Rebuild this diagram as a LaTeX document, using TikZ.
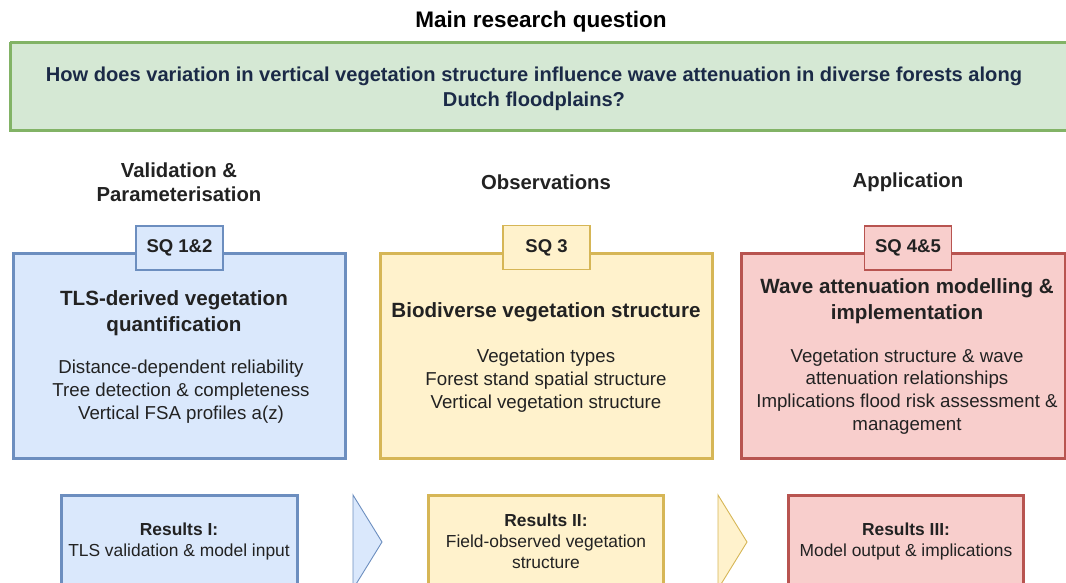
\documentclass[tikz,border=0pt]{standalone}
\usepackage{fontspec}
\setmainfont{Liberation Sans}
\definecolor{bfill}{HTML}{DAE8FC}\definecolor{bdraw}{HTML}{6C8EBF}
\definecolor{yfill}{HTML}{FFF2CC}\definecolor{ydraw}{HTML}{D6B656}
\definecolor{rfill}{HTML}{F8CECC}\definecolor{rdraw}{HTML}{B85450}
\definecolor{gfill}{HTML}{D5E8D4}\definecolor{gdraw}{HTML}{82B366}
\definecolor{navy}{HTML}{1B2A47}
\definecolor{txt}{HTML}{222222}
\tikzset{
  bigbox/.style={line width=3pt},
  tabbox/.style={line width=1.2pt, minimum width=87pt, minimum height=44pt, inner sep=0pt, font=\fontsize{18.5}{22}\selectfont\bfseries, text=txt},
  headtxt/.style={align=center, font=\fontsize{20.3}{24}\selectfont\bfseries, text=txt},
  titletxt/.style={align=center, font=\fontsize{20.6}{26}\selectfont\bfseries, text=txt},
  itemtxt/.style={align=center, font=\fontsize{18.7}{22.8}\selectfont, text=txt},
  restxt/.style={align=center, font=\fontsize{17.4}{21}\selectfont, text=txt},
  chev/.style={line width=0.9pt},
}
\begin{document}
\begin{tikzpicture}[x=1pt,y=-1pt]
\useasboundingbox (0,0) rectangle (1066,582);
\clip (0,0) rectangle (1066,582);
% title
\node[font=\fontsize{22.5}{26}\selectfont\bfseries, text=black] (title) at (541,22) {Main research question};
% main question
\draw[gfill, fill=gfill] (10,42) rectangle (1072,130);
\draw[gdraw, line width=3pt] (10,42) -- (1072,42) (10,42) -- (10,130) -- (1072,130);
\node[align=center, font=\fontsize{20.1}{25}\selectfont\bfseries, text=navy] (mq) at (534,88.5)
  {How does variation in vertical vegetation structure influence wave attenuation in diverse forests along\\Dutch floodplains?};
% column headers
\node[headtxt] (h1) at (179,182) {Validation \&\\Parameterisation};
\node[headtxt] (h2) at (546,182) {Observations};
\node[headtxt] (h3) at (908,182) {Application};
% big boxes
\draw[bigbox, draw=bdraw, fill=bfill] (13,253) rectangle (345,458);
\draw[bigbox, draw=ydraw, fill=yfill] (380,253) rectangle (712,458);
\draw[bigbox, draw=rdraw, fill=rfill] (741,253) rectangle (1065,458);
% tabs
\node[tabbox, draw=bdraw, fill=bfill] (sq1) at (179.5,248) {SQ 1\&2};
\node[tabbox, draw=ydraw, fill=yfill] (sq3) at (546.5,247.5) {SQ 3};
\node[tabbox, draw=rdraw, fill=rfill] (sq4) at (908,248) {SQ 4\&5};
% box texts
\node[titletxt] (t1) at (174,313) {TLS-derived vegetation\\quantification};
\node[itemtxt] (i1) at (181,391.5) {Distance-dependent reliability\\Tree detection \& completeness\\Vertical FSA profiles a(z)};
\node[titletxt] (t2) at (546,312) {Biodiverse vegetation structure};
\node[itemtxt] (i2) at (546,380.5) {Vegetation types\\Forest stand spatial structure\\Vertical vegetation structure};
\node[titletxt] (t3) at (907,301.5) {Wave attenuation modelling \&\\implementation};
\node[itemtxt] (i3) at (907,391.5) {Vegetation structure \& wave\\attenuation relationships\\Implications flood risk assessment \&\\management};
% results boxes
\draw[bigbox, draw=bdraw, fill=bfill] (61,495) rectangle (297,600);
\draw[bigbox, draw=ydraw, fill=yfill] (428,495) rectangle (663,600);
\draw[bigbox, draw=rdraw, fill=rfill] (788,495) rectangle (1023,600);
\node[restxt] (r1) at (179,541) {\textbf{Results I:}\\TLS validation \& model input};
\node[restxt] (r2) at (546,541.5) {\textbf{Results II:}\\Field-observed vegetation\\structure};
\node[restxt] (r3) at (906,541) {\textbf{Results III:}\\Model output \& implications};
% chevrons
\draw[chev, draw=bdraw, fill=bfill] (353,495) -- (382,542) -- (353,589) -- cycle;
\draw[chev, draw=ydraw, fill=yfill] (718,495) -- (747,542) -- (718,589) -- cycle;
\end{tikzpicture}
\end{document}
